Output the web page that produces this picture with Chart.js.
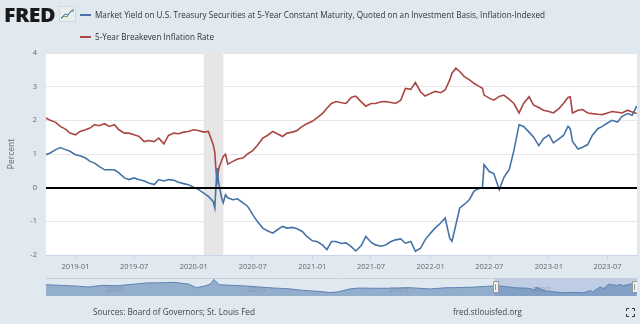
<!DOCTYPE html>
<html><head><meta charset="utf-8">
<script src="https://cdn.jsdelivr.net/npm/chart.js@4/dist/chart.umd.min.js"></script>
<style>
html,body{margin:0;padding:0;background:#e1e9f0;width:640px;height:324px;overflow:hidden;font-family:"Open Sans",sans-serif;}
#wrap{position:relative;width:640px;height:324px;}
canvas{position:absolute;}
#main{left:0;top:0;}
#nav{left:46px;top:278px;}
.t{position:absolute;white-space:nowrap;transform-origin:0 50%;line-height:14px;}
.sw{position:absolute;width:11px;height:2px;}
</style></head>
<body><div id="wrap">
<canvas id="main" width="640" height="324"></canvas>
<canvas id="nav" width="591" height="18"></canvas>
<div id="logo" class="t" style="left:4px;top:6px;font-size:19px;line-height:18px;font-weight:800;color:#1a1a1a;letter-spacing:-0.5px;">FRED</div>
<svg style="position:absolute;left:59px;top:6px" width="17" height="16"><rect x="0.5" y="0.5" width="16" height="15" fill="#e9eef3" stroke="#d0d8e0"/><polyline points="2,13 5,10 8,11 11,6 15,3" fill="none" stroke="#6a9b3a" stroke-width="1"/><polyline points="2,12 6,8 9,9 12,5 15,5" fill="none" stroke="#4f7fbf" stroke-width="1"/></svg>
<div id="sw1" class="sw" style="left:80px;top:14px;"></div>
<div id="leg1" class="t" style="left:95px;top:8px;font-size:9px;color:#333;">Market Yield on U.S. Treasury Securities at 5-Year Constant Maturity, Quoted on an Investment Basis, Inflation-Indexed</div>
<div id="sw2" class="sw" style="left:80px;top:36px;"></div>
<div id="leg2" class="t" style="left:95px;top:30px;font-size:9px;color:#333;">5-Year Breakeven Inflation Rate</div>
<div id="src" class="t" style="left:93px;top:305px;font-size:8.5px;color:#444;">Sources: Board of Governors; St. Louis Fed</div>
<div id="url" class="t" style="left:453px;top:305px;font-size:8.5px;color:#444;">fred.stlouisfed.org</div>
<svg style="position:absolute;left:626px;top:308px" width="9" height="9"><path d="M0.5,3V0.5H3M6,0.5H8.5V3M8.5,6V8.5H6M3,8.5H0.5V6" fill="none" stroke="#333" stroke-width="1"/></svg>
</div>
<script>
// ---- data ----
const dates = ['2018-10-01','2018-10-15','2018-11-01','2018-11-15','2018-12-01','2018-12-15',
'2019-01-01','2019-01-15','2019-02-01','2019-02-15','2019-03-01','2019-03-15','2019-04-01','2019-04-15','2019-05-01','2019-05-15','2019-06-01','2019-06-15',
'2019-07-01','2019-07-15','2019-08-01','2019-08-15','2019-09-01','2019-09-15','2019-10-01','2019-10-15','2019-11-01','2019-11-15','2019-12-01','2019-12-15',
'2020-01-01','2020-01-15','2020-02-01','2020-02-15','2020-03-01','2020-03-06','2020-03-09','2020-03-13','2020-03-17','2020-03-20','2020-03-27','2020-04-01','2020-04-08','2020-04-15',
'2020-05-01','2020-05-15','2020-06-01','2020-06-15','2020-07-01','2020-07-15','2020-08-01','2020-08-15','2020-09-01','2020-09-15','2020-10-01','2020-10-15','2020-11-01','2020-11-15','2020-12-01','2020-12-15',
'2021-01-01','2021-01-15','2021-02-01','2021-02-15','2021-03-01','2021-03-15','2021-04-01','2021-04-15','2021-05-01','2021-05-15','2021-06-01','2021-06-15',
'2021-07-01','2021-07-15','2021-08-01','2021-08-15','2021-09-01','2021-09-15','2021-10-01','2021-10-15','2021-11-01','2021-11-15','2021-12-01','2021-12-15',
'2022-01-01','2022-01-15','2022-02-01','2022-02-15','2022-03-01','2022-03-08','2022-03-20','2022-04-01','2022-04-15','2022-05-01','2022-05-15','2022-06-01','2022-06-10','2022-06-15',
'2022-07-01','2022-07-15','2022-08-01','2022-08-15','2022-09-01','2022-09-15','2022-10-01','2022-10-15','2022-11-01','2022-11-15','2022-12-01','2022-12-15',
'2023-01-01','2023-01-15','2023-02-01','2023-02-15','2023-03-01','2023-03-08','2023-03-15','2023-04-01','2023-04-15','2023-05-01','2023-05-15','2023-06-01','2023-06-15',
'2023-07-01','2023-07-15','2023-08-01','2023-08-15','2023-09-01','2023-09-15','2023-09-29'];
const realYield = [0.98,1.03,1.13,1.19,1.13,1.08,
0.98,0.95,0.88,0.78,0.73,0.63,0.53,0.53,0.53,0.44,0.29,0.24,
0.29,0.24,0.20,0.14,0.09,0.24,0.20,0.24,0.22,0.16,0.12,0.09,
0.01,-0.05,-0.16,-0.26,-0.41,-0.60,-0.05,0.58,0.20,0.04,-0.30,-0.45,-0.21,-0.30,
-0.36,-0.33,-0.45,-0.55,-0.80,-1.00,-1.20,-1.28,-1.35,-1.25,-1.15,-1.20,-1.18,-1.22,-1.30,-1.45,
-1.58,-1.60,-1.70,-1.84,-1.60,-1.60,-1.66,-1.64,-1.75,-1.88,-1.72,-1.45,
-1.62,-1.70,-1.74,-1.70,-1.60,-1.55,-1.52,-1.65,-1.60,-1.89,-1.80,-1.55,
-1.35,-1.20,-1.05,-0.90,-1.50,-1.59,-1.10,-0.60,-0.50,-0.35,-0.10,-0.02,0.00,0.68,
0.48,0.42,-0.06,0.30,0.55,1.10,1.87,1.82,1.65,1.50,1.25,1.45,
1.57,1.33,1.45,1.55,1.82,1.75,1.37,1.15,1.20,1.28,1.55,1.75,1.82,
1.92,2.00,1.95,2.12,2.20,2.15,2.42];
const breakeven = [2.07,2.00,1.94,1.82,1.74,1.62,
1.57,1.67,1.72,1.77,1.87,1.84,1.90,1.82,1.87,1.72,1.62,1.62,
1.57,1.53,1.37,1.40,1.37,1.47,1.30,1.55,1.62,1.60,1.65,1.67,
1.72,1.70,1.65,1.67,1.28,1.05,0.60,0.19,0.50,0.63,0.80,0.93,0.99,0.70,
0.78,0.85,0.88,1.00,1.10,1.25,1.47,1.55,1.67,1.60,1.52,1.62,1.65,1.70,1.82,1.90,
1.97,2.07,2.20,2.36,2.50,2.56,2.52,2.50,2.68,2.72,2.55,2.42,
2.50,2.50,2.55,2.56,2.53,2.50,2.60,2.95,2.92,3.12,2.85,2.72,
2.80,2.86,2.82,2.90,3.20,3.40,3.55,3.45,3.30,3.20,3.10,3.00,2.95,2.75,
2.66,2.60,2.71,2.75,2.62,2.50,2.22,2.50,2.70,2.45,2.38,2.30,
2.26,2.22,2.35,2.50,2.68,2.70,2.22,2.30,2.32,2.22,2.20,2.18,2.17,
2.22,2.26,2.24,2.22,2.30,2.25,2.20];
const seriesNames = ['Market Yield on U.S. Treasury Securities at 5-Year Constant Maturity, Quoted on an Investment Basis, Inflation-Indexed','5-Year Breakeven Inflation Rate'];
const xTickLabels = ['2019-01','2019-07','2020-01','2020-07','2021-01','2021-07','2022-01','2022-07','2023-01','2023-07'];
const xRange = ['2018-10-02','2023-09-30'];
const recession = ['2020-02-01','2020-04-01'];
const yTicks = [-2,-1,0,1,2,3,4];
// navigator (full history)
const navDates = ['2003-01-02','2003-07-01','2004-01-01','2004-07-01','2005-01-01','2005-07-01','2006-01-01','2006-07-01','2007-01-01','2007-07-01',
'2008-01-01','2008-04-15','2008-08-01','2008-10-15','2008-11-20','2009-02-01','2009-07-01','2010-01-01','2010-07-01','2011-01-01','2011-07-01',
'2012-01-01','2012-07-01','2013-01-01','2013-04-01','2013-09-01','2014-01-01','2014-07-01','2015-01-01','2015-10-01','2016-07-01','2017-01-01',
'2017-07-01','2018-01-01','2018-09-01','2018-11-15','2019-07-01','2019-12-01','2020-03-06','2020-03-13','2020-08-01','2021-02-15','2021-08-01',
'2021-11-15','2022-02-15','2022-03-08','2022-06-15','2022-08-01','2022-10-01','2023-01-15','2023-03-01','2023-04-01','2023-07-15','2023-09-29'];
const navYield = [1.65,1.4,1.1,0.65,1.4,1.2,1.8,2.4,2.5,2.7,
1.95,0.35,1.1,2.1,4.0,1.65,1.4,1.1,0.65,0.2,-0.1,
-0.8,-1.2,-1.8,-1.5,-0.2,0.2,0.1,0.1,0.35,-0.2,0.3,
0.4,0.6,1.1,1.19,0.3,0.1,-0.6,0.58,-1.2,-1.84,-1.74,
-1.89,-0.9,-1.59,0.68,-0.06,1.87,1.33,1.82,1.15,2.0,2.42];
const navYears = ['2005','2010','2015','2020'];
const navRange = ['2003-01-01','2023-10-01'];

// ---- helpers ----
const blue = '#4572a7', red = '#aa4643';
const toMs = s => { const p = s.split('-').map(Number); return Date.UTC(p[0], (p[1]||1)-1, p[2]||1); };
document.getElementById('sw1').style.background = blue;
document.getElementById('sw2').style.background = red;

const bgPlugin = {
  id: 'bg',
  beforeDraw(c) {
    const {ctx, chartArea: a, scales: {x}} = c;
    ctx.save();
    ctx.fillStyle = '#ffffff';
    ctx.fillRect(a.left, a.top, a.right - a.left, a.bottom - a.top);
    const x0 = x.getPixelForValue(toMs(recession[0])), x1 = x.getPixelForValue(toMs(recession[1]));
    ctx.fillStyle = '#e6e6e6';
    ctx.fillRect(x0, a.top, x1 - x0, a.bottom - a.top);
    ctx.restore();
  },
  afterDatasetsDraw(c) {
    const {ctx, chartArea: a, scales: {y}} = c;
    const y0 = Math.round(y.getPixelForValue(0));
    ctx.save();
    ctx.strokeStyle = '#000'; ctx.lineWidth = 2;
    ctx.beginPath(); ctx.moveTo(a.left, y0); ctx.lineTo(a.right, y0); ctx.stroke();
    ctx.restore();
  }
};

new Chart(document.getElementById('main'), {
  type: 'line',
  data: {
    datasets: [
      {label: seriesNames[0], data: dates.map((d,i)=>({x: toMs(d), y: realYield[i]})), borderColor: blue, borderWidth: 1.6, pointRadius: 0, tension: 0},
      {label: seriesNames[1], data: dates.map((d,i)=>({x: toMs(d), y: breakeven[i]})), borderColor: red, borderWidth: 1.6, pointRadius: 0, tension: 0}
    ]
  },
  options: {
    responsive: false, animation: false, devicePixelRatio: 1,
    layout: {padding: {top: 53, right: 3, left: 0, bottom: 0}},
    plugins: {legend: {display: false}, tooltip: {enabled: false}},
    scales: {
      x: {
        type: 'linear', min: toMs(xRange[0]), max: toMs(xRange[1]),
        afterBuildTicks: s => { s.ticks = xTickLabels.map(l => ({value: toMs(l)})); },
        afterFit: s => { s.height = 69; },
        grid: {drawOnChartArea: false, drawTicks: true, tickLength: 5, color: '#ccd6eb'},
        border: {display: true, color: '#ccd6eb'},
        ticks: {autoSkip: false, maxRotation: 0, padding: 2, color: '#666', font: {size: 7.5, family: 'Open Sans'},
          callback: v => { const i = xTickLabels.findIndex(l => toMs(l) === v); return i >= 0 ? xTickLabels[i] : ''; }}
      },
      y: {
        min: yTicks[0], max: yTicks[yTicks.length-1],
        afterBuildTicks: s => { s.ticks = yTicks.map(v => ({value: v})); },
        afterFit: s => { s.width = 46; },
        grid: {drawTicks: false, color: '#e6e6e6', lineWidth: 1},
        border: {display: false},
        ticks: {padding: 9, color: '#666', font: {size: 7.5, family: 'Open Sans'}},
        title: {display: true, text: 'Percent', color: '#666', font: {size: 8.5, family: 'Open Sans'}, padding: {top: 6, bottom: 0}}
      }
    }
  },
  plugins: [bgPlugin]
});

const navPlugin = {
  id: 'navdeco',
  beforeDatasetsDraw(c) {
    const {ctx, chartArea: a, scales: {x}} = c;
    ctx.save();
    ctx.strokeStyle = '#c6cfd9'; ctx.lineWidth = 1;
    ctx.beginPath(); ctx.moveTo(a.left, 0.5); ctx.lineTo(a.right, 0.5); ctx.stroke();
    const s0 = x.getPixelForValue(toMs(dates[0])), s1 = a.right;
    ctx.fillStyle = 'rgba(102,133,194,0.28)';
    ctx.fillRect(s0, 1, s1 - s0, a.bottom - 1);
    ctx.restore();
  },
  afterDatasetsDraw(c) {
    const {ctx, chartArea: a, scales: {x}} = c;
    ctx.save();
    ctx.font = '8px "Open Sans"'; ctx.fillStyle = 'rgba(120,130,150,0.55)'; ctx.textBaseline = 'middle';
    navYears.forEach(yr => { ctx.fillText(yr, x.getPixelForValue(toMs(yr)) + 2, 12); });
    const hs = [x.getPixelForValue(toMs(dates[0])), a.right - 3];
    hs.forEach(h => {
      ctx.fillStyle = '#f2f2f2'; ctx.strokeStyle = '#999';
      ctx.beginPath(); ctx.rect(Math.round(h - 2) + 0.5, 3.5, 5, 11); ctx.fill(); ctx.stroke();
      ctx.beginPath(); ctx.moveTo(Math.round(h) + 0.5, 6); ctx.lineTo(Math.round(h) + 0.5, 12); ctx.stroke();
    });
    ctx.restore();
  }
};

new Chart(document.getElementById('nav'), {
  type: 'line',
  data: {datasets: [{data: navDates.map((d,i)=>({x: toMs(d), y: navYield[i]})), borderColor: '#5f82b5', borderWidth: 1,
    backgroundColor: 'rgba(69,114,167,0.5)', fill: 'start', pointRadius: 0, tension: 0}]},
  options: {
    responsive: false, animation: false, devicePixelRatio: 1,
    layout: {padding: 0},
    plugins: {legend: {display: false}, tooltip: {enabled: false}},
    scales: {
      x: {type: 'linear', display: false, min: toMs(navRange[0]), max: toMs(navRange[1])},
      y: {display: false, min: -3.3, max: 4.6}
    }
  },
  plugins: [navPlugin]
});

function fit(id, w) {
  const el = document.getElementById(id);
  el.style.transform = 'none';
  const r = el.getBoundingClientRect().width;
  el.style.transform = 'scaleX(' + (w / r) + ')';
}
function fitAll() { fit('logo', 51); fit('leg1', 450); fit('leg2', 119); fit('src', 162); fit('url', 69); }
fitAll();
if (document.fonts && document.fonts.ready) document.fonts.ready.then(fitAll);
</script>
</body></html>
